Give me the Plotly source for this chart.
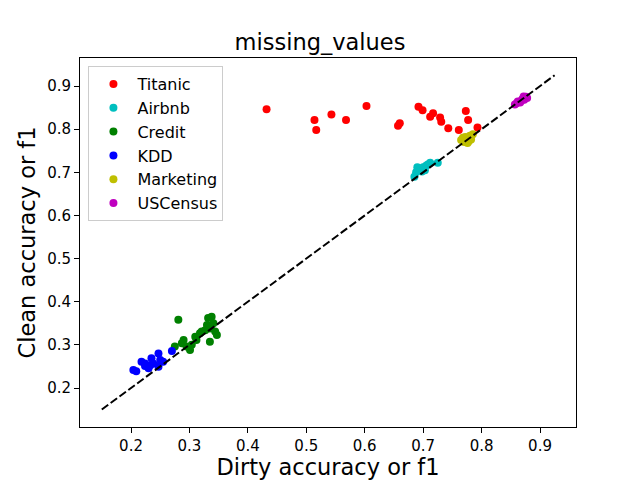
import plotly.graph_objects as go

titanic_x = [0.432, 0.514, 0.517, 0.543, 0.568, 0.603, 0.660, 0.657, 0.692, 0.699, 0.712, 0.717, 0.729, 0.731, 0.743, 0.761, 0.773, 0.777, 0.793]
titanic_y = [0.846, 0.821, 0.798, 0.834, 0.821, 0.854, 0.814, 0.808, 0.852, 0.844, 0.829, 0.837, 0.827, 0.817, 0.802, 0.798, 0.842, 0.821, 0.804]

airbnb_x = [0.685, 0.688, 0.690, 0.695, 0.700, 0.703, 0.708, 0.712, 0.705, 0.725, 0.698]
airbnb_y = [0.690, 0.700, 0.712, 0.708, 0.712, 0.705, 0.718, 0.722, 0.715, 0.722, 0.702]

credit_x = [0.281, 0.275, 0.287, 0.290, 0.295, 0.301, 0.304, 0.312, 0.318, 0.321, 0.327, 0.330, 0.332, 0.338, 0.335, 0.335, 0.344, 0.347, 0.341, 0.310]
credit_y = [0.358, 0.296, 0.304, 0.311, 0.296, 0.288, 0.300, 0.311, 0.327, 0.331, 0.334, 0.346, 0.362, 0.365, 0.338, 0.307, 0.331, 0.323, 0.350, 0.319]

kdd_x = [0.204, 0.209, 0.218, 0.224, 0.230, 0.235, 0.238, 0.247, 0.250, 0.255, 0.247, 0.270, 0.233, 0.224]
kdd_y = [0.242, 0.239, 0.261, 0.257, 0.246, 0.269, 0.257, 0.280, 0.265, 0.261, 0.249, 0.286, 0.253, 0.251]

marketing_x = [0.765, 0.770, 0.775, 0.778, 0.780, 0.785, 0.772, 0.768, 0.776, 0.782]
marketing_y = [0.775, 0.770, 0.778, 0.772, 0.785, 0.788, 0.782, 0.780, 0.768, 0.776]

uscensus_x = [0.857, 0.862, 0.866, 0.870, 0.873, 0.876, 0.868, 0.860, 0.878, 0.872]
uscensus_y = [0.857, 0.864, 0.862, 0.870, 0.868, 0.875, 0.866, 0.860, 0.872, 0.876]

diag = [0.15, 0.925]

series = [
    ("Titanic", titanic_x, titanic_y, "#ff0000"),
    ("Airbnb", airbnb_x, airbnb_y, "#00bfbf"),
    ("Credit", credit_x, credit_y, "#008000"),
    ("KDD", kdd_x, kdd_y, "#0000ff"),
    ("Marketing", marketing_x, marketing_y, "#bfbf00"),
    ("USCensus", uscensus_x, uscensus_y, "#bf00bf"),
]

fig = go.Figure()
for name, xs, ys, col in series:
    fig.add_trace(go.Scatter(x=xs, y=ys, mode="markers", name=name,
                             marker=dict(color=col, size=8, line=dict(width=0))))
fig.add_trace(go.Scatter(x=diag, y=diag, mode="lines", showlegend=False,
                         line=dict(color="black", width=2, dash="8px,3px")))

font = "DejaVu Sans"
axis_common = dict(showgrid=False, zeroline=False, showline=True, linecolor="black",
                   linewidth=1, mirror=True, ticks="outside", ticklen=5, tickcolor="black",
                   tickfont=dict(family=font, size=15, color="black"), dtick=0.1, tick0=0.1,
                   automargin=False)

fig.update_layout(
    width=640, height=480,
    margin=dict(l=80, r=64, t=58, b=53),
    paper_bgcolor="white", plot_bgcolor="white",
    title=dict(text="missing_values", x=0.5, xanchor="center", y=1 - 42 / 480, yanchor="middle",
               yref="container", font=dict(family=font, size=22.5, color="black")),
    xaxis=dict(range=[0.1127, 0.9616], tickformat=".1f",
               title=dict(text="Dirty accuracy or f1", font=dict(family=font, size=22.5, color="black"), standoff=6),
               **axis_common),
    yaxis=dict(range=[0.1096, 0.965], tickformat=".1f",
               title=dict(text="Clean accuracy or f1", font=dict(family=font, size=22.5, color="black"), standoff=5),
               **axis_common),
    legend=dict(x=0.017, y=0.978, xanchor="left", yanchor="top", bgcolor="white",
                bordercolor="#cccccc", borderwidth=1, font=dict(family=font, size=16, color="black"),
                tracegroupgap=0, itemwidth=38),
    showlegend=True,
)

fig.write_html("out.html")
